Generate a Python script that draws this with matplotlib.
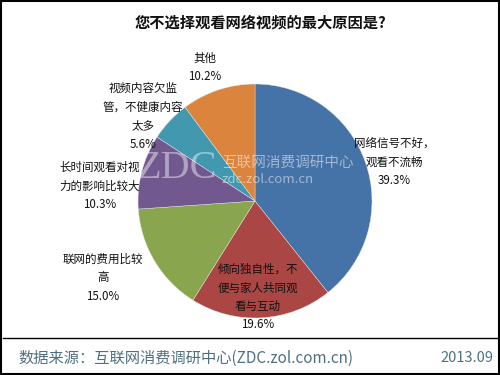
import matplotlib
matplotlib.use("Agg")
import matplotlib.pyplot as plt
from matplotlib.patches import Rectangle
from matplotlib.lines import Line2D

plt.rcParams['font.family'] = ['Noto Sans CJK SC', 'DejaVu Sans']

title = "您不选择观看网络视频的最大原因是?"
categories = ["网络信号不好，\n观看不流畅",
              "倾向独自性，不\n便与家人共同观\n看与互动",
              "联网的费用比较\n高",
              "长时间观看对视\n力的影响比较大",
              "视频内容欠监\n管，不健康内容\n太多",
              "其他"]
values = [39.3, 19.6, 15.0, 10.3, 5.6, 10.2]
colors = ["#4572A7", "#AA4643", "#89A54E", "#71588F", "#4198AF", "#DB843D"]
source = "数据来源：互联网消费调研中心(ZDC.zol.com.cn)"
date = "2013.09"

W, H = 500, 375
fig = plt.figure(figsize=(5, 3.75), dpi=100)

def fx(px): return px / W
def fy(py): return 1 - py / H

# pie axes: center (255,201), radius 117 px
cx, cy, r = 255, 201, 117
ax = fig.add_axes([fx(cx - r), fy(cy + r), 2 * r / W, 2 * r / H])
ax.pie(values, colors=colors, startangle=90, counterclock=False,
       wedgeprops=dict(edgecolor='#e8e8e8', linewidth=0.3))
ax.set_xlim(-1, 1)
ax.set_ylim(-1, 1)
ax.set_aspect('equal')
ax.axis('off')

# watermark
fig.text(fx(136), fy(169), "ZDC", fontsize=29, family='Liberation Serif',
         color='white', alpha=0.45, va='center', ha='left')
fig.text(fx(222), fy(163), "互联网消费调研中心", fontsize=10.5,
         color='white', alpha=0.5, va='center', ha='left')
fig.text(fx(222), fy(179), "zdc.zol.com.cn", fontsize=9.5,
         color='white', alpha=0.5, va='center', ha='left')

# label positions (pixel coords of top of first line)
label_pos = [(394, 137), (258, 263), (103, 253), (100, 161), (143, 82), (205, 52)]
for cat, v, (px, py) in zip(categories, values, label_pos):
    txt = cat + "\n" + f"{v:.1f}%"
    fig.text(fx(px), fy(py), txt, ha='center', va='top', fontsize=8.3,
             color='#111111', linespacing=1.55)

# title
fig.text(0.52, fy(23), title, ha='center', va='center', fontsize=11,
         fontweight='bold', color='#111111')

# footer line and text
fig.add_artist(Line2D([fx(3), fx(497)], [fy(338), fy(338)], color='black', lw=1.0))
fig.text(fx(18), fy(358), source, ha='left', va='center', fontsize=11,
         color='#4f7080')
fig.text(fx(493), fy(358), date, ha='right', va='center', fontsize=10.5,
         color='#4f7080')

# border
fig.add_artist(Rectangle((0.002, 0.003), 0.996, 0.994, transform=fig.transFigure,
                         fill=False, edgecolor='black', lw=1.5))

fig.savefig("out.png", dpi=100)
